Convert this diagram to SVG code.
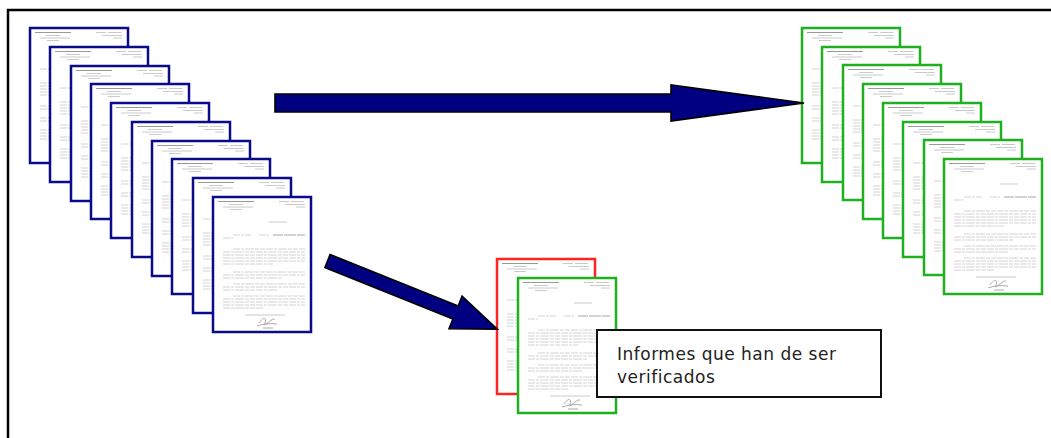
<svg xmlns="http://www.w3.org/2000/svg" xmlns:xlink="http://www.w3.org/1999/xlink" width="1051" height="438" viewBox="0 0 1051 438">
<style>
.pg{fill:#ffffff;stroke-width:2.5}
.blue{stroke:#0b0b8a}
.green{stroke:#1fb01f}
.red{stroke:#ff2424}
.arrow{fill:#000080;stroke:#000000;stroke-width:1.6;stroke-linejoin:miter}
.lbl{font-family:"DejaVu Sans","Liberation Sans",sans-serif;font-size:17px;letter-spacing:0.5px;fill:#222222}
.tx{fill:none;stroke:#cdcdcd;stroke-width:0.9;stroke-dasharray:7 1 3 1 9 1 4 1 5 1}
.hd{fill:none;stroke:#bcbcbc;stroke-width:0.8}
</style>
<defs>
<g id="letter">
<path d="M5 4.5h36" stroke="#9a9a9a" stroke-width="1.1" fill="none"/>
<path class="hd" d="M16 7.5h14M10 10h30M17 12.5h12M66 4.5h10M78 4.5h13M72 7.5h20M83 10h9"/>
<path class="hd" d="M56 25h18"/>
<path class="tx" d="M20 38h18M46 38h10"/>
<path d="M60 38h32" stroke="#a6a6a6" stroke-width="1" fill="none" stroke-dasharray="10 1 12 1"/>
<path class="tx" d="M10 41h10"/>
<path class="tx" d="M20 52h72M10 55h82M10 58h82M10 61h82M10 64h82M10 67h50"/>
<path class="tx" d="M20 75h72M10 78h82M10 81h60"/>
<path class="tx" d="M20 87h72M10 90h82M10 93h55"/>
<path class="tx" d="M20 99h72M10 102h82M10 105h82M10 108h82M10 111h40"/>
<path class="hd" d="M32 118h40"/>
<path d="M46 126c4-6 8-6 6 0s6-5 10-4M44 129c6-2 12-3 20-2M50 131h10" stroke="#a0a0a0" stroke-width="0.9" fill="none"/>
</g>
</defs>
<rect x="8" y="10" width="1100" height="500" fill="none" stroke="#000000" stroke-width="2.5"/>
<g id="blue-stack">
<g id="blue-1"><rect class="pg blue" x="30" y="28" width="98" height="135"/><use xlink:href="#letter" x="30" y="28"/></g>
<g id="blue-2"><rect class="pg blue" x="50" y="47" width="98" height="135"/><use xlink:href="#letter" x="50" y="47"/></g>
<g id="blue-3"><rect class="pg blue" x="71" y="66" width="98" height="135"/><use xlink:href="#letter" x="71" y="66"/></g>
<g id="blue-4"><rect class="pg blue" x="91" y="84" width="98" height="135"/><use xlink:href="#letter" x="91" y="84"/></g>
<g id="blue-5"><rect class="pg blue" x="111" y="103" width="98" height="135"/><use xlink:href="#letter" x="111" y="103"/></g>
<g id="blue-6"><rect class="pg blue" x="132" y="122" width="98" height="135"/><use xlink:href="#letter" x="132" y="122"/></g>
<g id="blue-7"><rect class="pg blue" x="152" y="141" width="98" height="135"/><use xlink:href="#letter" x="152" y="141"/></g>
<g id="blue-8"><rect class="pg blue" x="172" y="159" width="98" height="135"/><use xlink:href="#letter" x="172" y="159"/></g>
<g id="blue-9"><rect class="pg blue" x="193" y="178" width="98" height="135"/><use xlink:href="#letter" x="193" y="178"/></g>
<g id="blue-10"><rect class="pg blue" x="213" y="197" width="98" height="135"/><use xlink:href="#letter" x="213" y="197"/></g>
</g>
<g id="green-stack">
<g id="green-1"><rect class="pg green" x="802" y="28" width="98" height="135"/><use xlink:href="#letter" x="802" y="28"/></g>
<g id="green-2"><rect class="pg green" x="822" y="47" width="98" height="135"/><use xlink:href="#letter" x="822" y="47"/></g>
<g id="green-3"><rect class="pg green" x="843" y="65" width="98" height="135"/><use xlink:href="#letter" x="843" y="65"/></g>
<g id="green-4"><rect class="pg green" x="863" y="84" width="98" height="135"/><use xlink:href="#letter" x="863" y="84"/></g>
<g id="green-5"><rect class="pg green" x="883" y="103" width="98" height="135"/><use xlink:href="#letter" x="883" y="103"/></g>
<g id="green-6"><rect class="pg green" x="903" y="122" width="98" height="135"/><use xlink:href="#letter" x="903" y="122"/></g>
<g id="green-7"><rect class="pg green" x="924" y="140" width="98" height="135"/><use xlink:href="#letter" x="924" y="140"/></g>
<g id="green-8"><rect class="pg green" x="944" y="159" width="98" height="135"/><use xlink:href="#letter" x="944" y="159"/></g>
</g>
<g id="verify-pair">
<g id="red-page"><rect class="pg red" x="497" y="259" width="98" height="135"/><use xlink:href="#letter" x="497" y="259"/></g>
<g id="green-page"><rect class="pg green" x="518" y="278" width="98" height="135"/><use xlink:href="#letter" x="518" y="278"/></g>
</g>
<g id="connectors">
<path class="arrow" d="M275 94H671V85L804 103L671 121V112H275Z"/>
<path class="arrow" transform="translate(327.5 261) rotate(21.9)" d="M0 -7H138V-17.5L183 0L138 17.5V7H0Z"/>
</g>
<g id="label">
<rect x="597" y="330" width="284" height="67" fill="#ffffff" stroke="#111111" stroke-width="2"/>
<text class="lbl" x="617" y="360">Informes que han de ser</text>
<text class="lbl" x="617" y="383">verificados</text>
</g>
</svg>
